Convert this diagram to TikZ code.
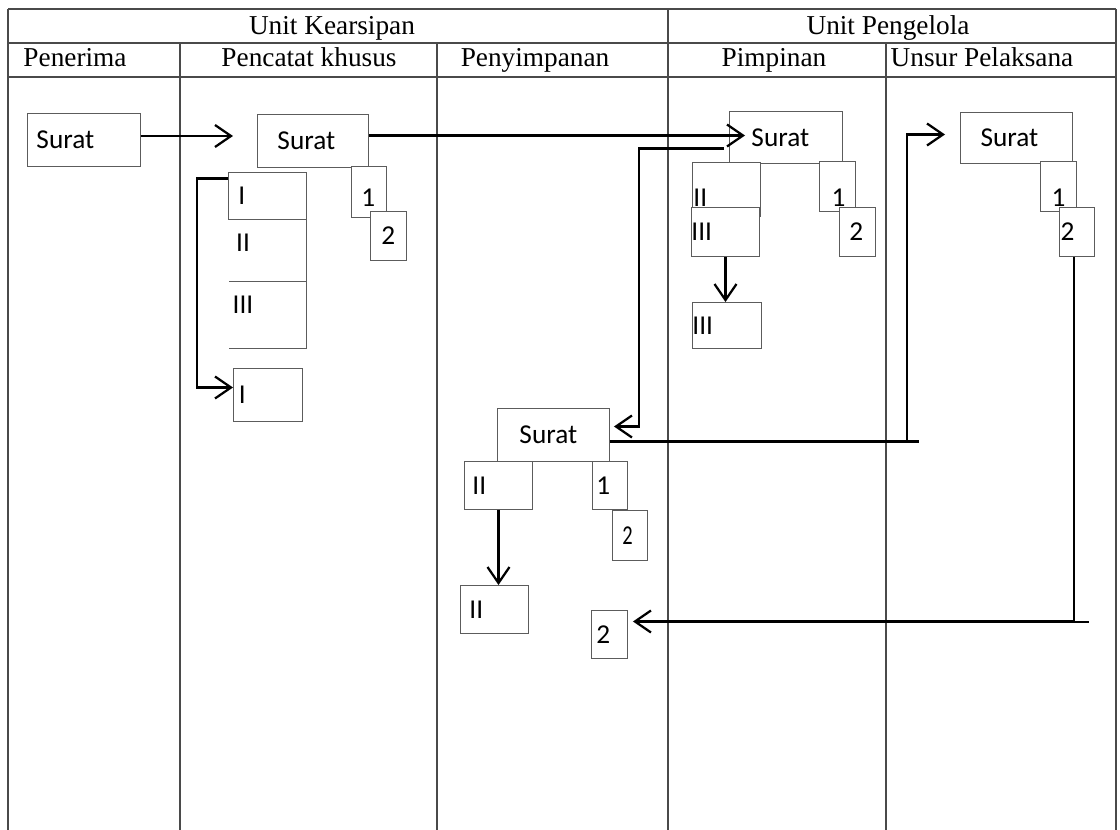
\documentclass[tikz,border=0pt]{standalone}
\usepackage{fontspec}
\setmainfont{Liberation Serif}
\newfontfamily\calibri{Carlito}
\usetikzlibrary{arrows.meta,calc}
\definecolor{Garis}{HTML}{4A4A4A}
\definecolor{Tepi}{HTML}{5C5C5C}
\newdimen\pxu \pxu=0.025cm
\newcommand{\kotak}[7][]{%
  \pgfmathsetlengthmacro{\kotaklebar}{(#5-#3)*0.025cm}%
  \pgfmathsetlengthmacro{\kotaktinggi}{(#6-#4)*0.025cm}%
  \node[kotak,text width=\kotaklebar,minimum height=\kotaktinggi,#1] (#2) at (#3,#4) {#7};}

\begin{document}
\begin{tikzpicture}[x=0.025cm,y=-0.025cm,
  tabel/.style={draw=Garis,line width=0.9pt},
  tepi/.style={draw=Tepi,line width=0.7pt},
  judul/.style={font=\fontsize{19.4}{23}\selectfont,anchor=base,inner sep=0pt},
  kotak/.style={draw=Tepi,fill=white,line width=0.7pt,inner sep=0pt,anchor=north west,align=left,font=\calibri\fontsize{19.4}{23}\selectfont},
  teks/.style={font=\calibri\fontsize{19.4}{23}\selectfont,inner sep=0pt},
  geser/.style={execute at begin node={\hspace*{#1\pxu}}},
  turun/.style={text height=#1},
  panah/.style={-{Straight Barb[length=4mm,width=5.5mm]},line width=1.6pt,black},
  garis/.style={line width=1.6pt,black}
]
\useasboundingbox (0,0) rectangle (1120,830);
\draw[tabel] (8,9) -- (1116,9) (8,43) -- (1116,43) (8,77) -- (1116,77);
\foreach \kol in {8,668,1116} \draw[tabel] (\kol,9) -- (\kol,830);
\foreach \kol in {180,437,886} \draw[tabel] (\kol,43) -- (\kol,830);
\node[judul] (hKearsipan) at (332,34) {Unit Kearsipan};
\node[judul] (hPengelola) at (888,34) {Unit Pengelola};
\node[judul] (hPenerima) at (75,66) {Penerima};
\node[judul] (hPencatat) at (309,66) {Pencatat khusus};
\node[judul] (hPenyimpanan) at (535,66) {Penyimpanan};
\node[judul] (hPimpinan) at (774,66) {Pimpinan};
\node[judul] (hPelaksana) at (982,66) {Unsur Pelaksana};

\kotak[geser=9]{penSurat}{27}{113}{140}{166}{Surat}

\kotak[geser=20]{catSurat}{257}{114}{368}{167}{Surat}
\kotak[geser=10,turun=20pt]{cat1}{351}{166}{386}{217}{1}
\kotak[geser=11]{cat2}{370}{211}{406}{260}{2}
\kotak[geser=10]{catI}{228}{172}{306}{219}{I}
\draw[tepi] (catI.south east) -- ++(0,129) -- ++(-78,0) ($(catI.south east)+(0,62)$) -- ++(-78,0);
\node[teks] (catII) at (243,243) {II};
\node[teks] (catIII) at (243,305) {III};
\kotak[geser=5.5]{catIa}{233}{368}{302}{421}{I}

\kotak[geser=22]{pimSurat}{729}{111}{842}{163}{Surat}
\kotak[geser=1,turun=23.7pt]{pimII}{692}{162}{760}{216}{II}
\kotak[geser=0]{pimIII}{691}{207}{759}{256}{III}
\kotak[geser=12,turun=28pt]{pim1}{819}{161}{855}{211}{1}
\kotak[geser=10]{pim2}{839}{207}{875}{256}{2}
\kotak[geser=0]{pimIIIa}{692}{302}{761}{348}{III}

\kotak[geser=20]{unsSurat}{960}{112}{1072}{163}{Surat}
\kotak[geser=11,turun=28pt]{uns1}{1040}{161}{1076}{211}{1}
\kotak[geser=1]{uns2}{1059}{207}{1094}{256}{2}

\kotak[geser=22]{simSurat}{497}{408}{609}{461}{Surat}
\kotak[geser=8]{simII}{464}{461}{532}{509}{II}
\kotak[geser=4]{sim1}{592}{461}{627}{509}{1}
\kotak[geser=10]{sim2}{612}{510}{647}{560}{\scalebox{0.75}[1]{2}}
\kotak[geser=9]{simIIa}{460}{585}{528}{633}{II}
\kotak[geser=5]{sim2a}{591}{610}{627}{658}{2}

\draw[panah] ($(penSurat.east)+(0,-4)$) -- ($(catSurat.west)+(-24,-5)$);
\draw[panah] ($(catSurat.east)+(0,-5.5)$) -- ($(pimSurat.west)+(16,-2)$);
\draw[panah] ($(catI.west)+(0,-17.5)$) -- ++(-31,0) |- ($(catIa.west)+(0,-7.5)$);
\draw[panah] (pimIII.south) -- (pimIII.south |- pimIIIa.north);
\draw[panah] ($(pimSurat.west)+(-5,11)$) -| ($(simSurat.east)+(29,-8.5)$) -- ($(simSurat.east)+(4,-8.5)$);
\draw[garis] ($(simSurat.east)+(0,6.5)$) -- ++(309,0);
\draw[panah] ($(simSurat.east)+(297,6.5)$) |- ($(unsSurat.west)+(-15,-3.5)$);
\draw[panah] ($(uns2.south)+(-3,0)$) |- ($(sim2a.east)+(5,-13)$);
\draw[garis] ($(uns2.south)+(-3,365)$) -- ++(15,0);
\draw[panah] (simII.south) -- (simII.south |- simIIa.north);
\end{tikzpicture}
\end{document}
